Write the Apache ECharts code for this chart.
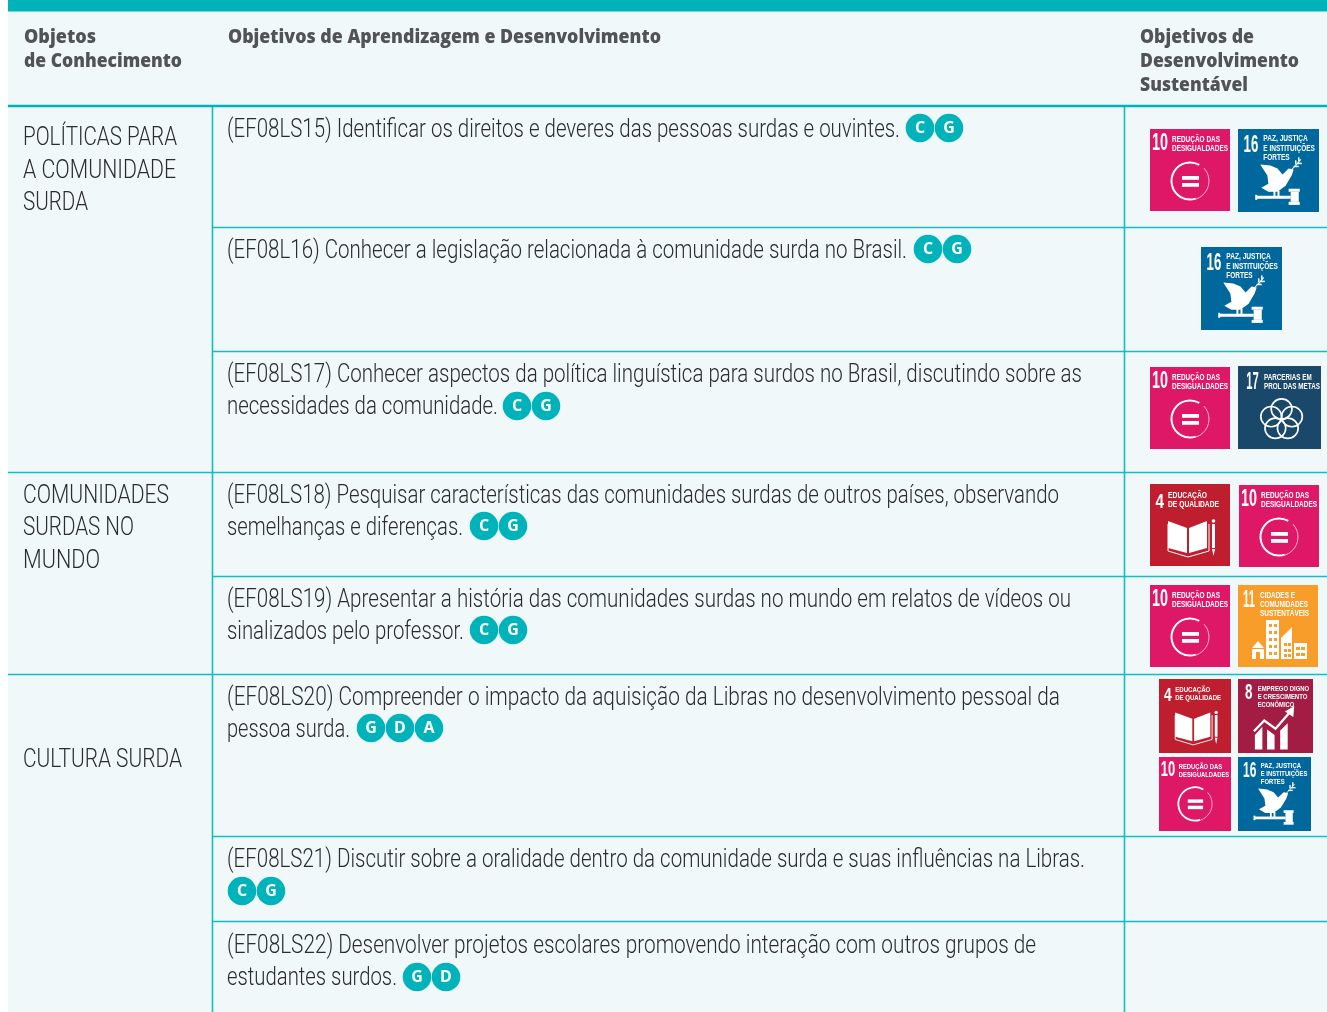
<!DOCTYPE html>
<html><head><meta charset="utf-8">
<style>html,body{margin:0;padding:0;background:#fff}#c{width:1327px;height:1012px}</style>
<script src="https://cdn.jsdelivr.net/npm/echarts@6/dist/echarts.min.js"></script>
</head><body><div id="c"></div>
<script>
// ---- content ----
const headers = [["Objetos","de Conhecimento"],["Objetivos de Aprendizagem e Desenvolvimento"],["Objetivos de","Desenvolvimento","Sustentável"]];
const topics = [["POLÍTICAS PARA","A COMUNIDADE","SURDA"],["COMUNIDADES","SURDAS NO","MUNDO"],["CULTURA SURDA"]];
const objectives = [
 ["(EF08LS15) Identificar os direitos e deveres das pessoas surdas e ouvintes."],
 ["(EF08L16) Conhecer a legislação relacionada à comunidade surda no Brasil."],
 ["(EF08LS17) Conhecer aspectos da política linguística para surdos no Brasil, discutindo sobre as","necessidades da comunidade."],
 ["(EF08LS18) Pesquisar características das comunidades surdas de outros países, observando","semelhanças e diferenças."],
 ["(EF08LS19) Apresentar a história das comunidades surdas no mundo em relatos de vídeos ou","sinalizados pelo professor."],
 ["(EF08LS20) Compreender o impacto da aquisição da Libras no desenvolvimento pessoal da","pessoa surda."],
 ["(EF08LS21) Discutir sobre a oralidade dentro da comunidade surda e suas influências na Libras."],
 ["(EF08LS22) Desenvolver projetos escolares promovendo interação com outros grupos de","estudantes surdos."]
];
const badges = [["C","G"],["C","G"],["C","G"],["C","G"],["C","G"],["G","D","A"],["C","G"],["G","D"]];
const rowGoals = [[10,16],[16],[10,17],[4,10],[10,11],[4,8,10,16],[],[]];
const goalTitles = {4:["EDUCAÇÃO","DE QUALIDADE"],8:["EMPREGO DIGNO","E CRESCIMENTO","ECONÔMICO"],10:["REDUÇÃO DAS","DESIGUALDADES"],11:["CIDADES E","COMUNIDADES","SUSTENTÁVEIS"],16:["PAZ, JUSTIÇA","E INSTITUIÇÕES","FORTES"],17:["PARCERIAS EM","PROL DAS METAS"]};
const goalColors = {4:"#BF1E2E",8:"#A21C44",10:"#DF1767",11:"#F99D2A",16:"#00689D",17:"#19486A"};

// ---- layout ----
const TEAL="#00B3BA", LINE="#14BBC1", BG="#F0F8FA", INK="#2C2C2E", HEAD="#525355";
const rowLines=[227.5,351.5,472.5,576.5,674.5,836.5,921.5];
const sectionLines=[472.5,674.5];
const headLayout=[[[24,37,96],[24,61,182]],[[228,37,661]],[[1140,37,1254],[1140,61,1299],[1140,85,1248]]];
const topicLayout=[[[23,138.5,177],[23,171,176],[23,203.5,88]],[[23,496,169],[23,528.5,134],[23,561,100]],[[23,760,182]]];
const objLayout=[[[227,130,900]],[[227,251,907]],[[227,375,1082],[227,407.5,498]],[[227,496,1059],[227,528.5,463]],[[227,600,1071],[227,632.5,464]],[[227,698,1060],[227,730.5,350]],[[227,860,1085]],[[227,946,1036],[227,978.5,397]]];
const badgeLayout=[[128,[920,949]],[249,[928,957]],[406,[517,546]],[526,[484,513]],[630,[484,513]],[728,[371,400,429]],[891,[242,271]],[977,[417,446]]];
const tileLayout=[[[1150,129,80,82],[1238,129,81,83]],[[1201,247,81,83]],[[1150,367,80,82],[1238,366,83,83]],[[1150,484,80,82],[1239,485,80,82]],[[1150,585,80,82],[1238,585,80,82]],[[1159,679,72,74],[1238,679,75,74],[1159,757,72,74],[1238,757,73,74]],[],[]];
const numLayout={4:[5.5,14,18.5,21],8:[7.5,15.5,15,24],10:[2,18,14.5,24],11:[5,17,15,24],16:[5.5,20,16,24],17:[8,20,16,24]};
const titleLayout={4:[18,[57,69],12],8:[21,[76,74,60],11],10:[22,[70,78],11],11:[22,[57,70,71],11],16:[25,[69,76,51],10],17:[25,[71,79],11]};

const ctx=document.createElement('canvas').getContext('2d');
function fit(text,pos,font){
  const [x,y,right]=pos;
  ctx.font=`${font.fontWeight} ${font.fontSize}px ${font.fontFamily}`;
  const w=ctx.measureText(text).width;
  return {type:'text',x:x,y:y,scaleX:(right-x)/w,silent:true,
    style:Object.assign({text:text,align:'left',verticalAlign:'middle'},font)};
}
const rect=(x,y,w,h,fill)=>({type:'rect',shape:{x,y,width:w,height:h},style:{fill},silent:true});
const poly=(points,fill)=>({type:'polygon',shape:{points},style:{fill},silent:true});
const pline=(points,w)=>({type:'polyline',shape:{points},style:{stroke:'#fff',lineWidth:w,fill:null},silent:true});
const W='#fff';
const ring=(cx,cy,r,w)=>({type:'circle',shape:{cx,cy,r},style:{stroke:W,lineWidth:w,fill:null},silent:true});

function icon(g){
  if(g===10) return [
    {type:'arc',shape:{cx:40,cy:52,r:18.5,startAngle:-Math.PI/3,endAngle:Math.PI*0.4,clockwise:false},style:{stroke:W,lineWidth:2,fill:null},silent:true},
    {type:'arc',shape:{cx:40,cy:52,r:19,startAngle:-0.75,endAngle:1.26,clockwise:true},style:{stroke:'#F6C6DA',lineWidth:0.9,fill:null},silent:true},
    rect(32,47,17,3.8,W),rect(32,54,17,3.8,W)];
  if(g===16) return [
    poly([[22,35],[32,36],[39,39],[44,45],[50,39],[55,40],[53,46],[47,56],[39,62],[30,62],[23,58],[30,54],[29,46]],W),
    rect(35,61,2,6,W),rect(39,61,2,6,W),rect(18,66,34,3,W),rect(17,65,2,5,W),rect(50,59,11,3,W),rect(52,62,8,10,W),rect(50,72,11,3,W),
    pline([[53,40],[58,35],[62,30]],1),pline([[55,37],[60,37]],1.5),pline([[58,34],[63,34]],1.5),pline([[57,35],[57,31]],1.5),pline([[60,32],[60,28]],1.5)];
  if(g===4) return [
    poly([[18,37],[37,44],[37,69],[18,64]],W),poly([[39,44],[57,37],[57,64],[39,69]],W),
    pline([[18,40],[18,67],[38,73],[59,67],[59,40]],1),
    rect(62,40,3,24,W),poly([[62,65],[65,65],[63.5,72]],W),{type:'circle',shape:{cx:63.5,cy:37,r:1.8},style:{fill:W},silent:true}];
  if(g===8) return [
    poly([[18,78],[18,62],[26,53],[26,78]],W),poly([[31,78],[31,56],[39,62],[39,78]],W),poly([[45,78],[45,57],[53,49],[53,78]],W),
    pline([[17,58],[28,46],[40,55],[56,36]],2.5),poly([[50,36],[60,30],[59,42]],W)];
  if(g===11) return [
    rect(28,35,13,39,W),rect(31,39,3,3,goalColors[11]),rect(36,39,3,3,goalColors[11]),rect(31,46,3,3,goalColors[11]),rect(36,46,3,3,goalColors[11]),rect(31,53,3,3,goalColors[11]),rect(36,53,3,3,goalColors[11]),rect(31,60,3,3,goalColors[11]),rect(36,60,3,3,goalColors[11]),rect(31,67,3,3,goalColors[11]),rect(36,67,3,3,goalColors[11]),
    poly([[14,63],[20,56],[26,63]],W),rect(14,64,12,10,W),rect(18,67,4,7,goalColors[11]),
    poly([[43,53],[54,42],[54,74],[43,74]],W),rect(46,58,3,3,goalColors[11]),rect(50,58,3,3,goalColors[11]),rect(46,64,3,3,goalColors[11]),rect(50,64,3,3,goalColors[11]),rect(46,69,3,3,goalColors[11]),rect(50,69,3,3,goalColors[11]),
    rect(56,58,13,16,W),rect(58,62,4,3,goalColors[11]),rect(63,62,4,3,goalColors[11]),rect(58,68,4,3,goalColors[11]),rect(63,68,4,3,goalColors[11])];
  if(g===17) return [ring(42,42.5,10,1.6),ring(32,50,10,1.6),ring(52,50,10,1.6),ring(36,61.5,10,1.6),ring(48,61.5,10,1.6)];
  return [];
}
const tileFontFamily='"Liberation Sans"';
function tile(g,box){
  const [x,y,w,h]=box;
  const kids=[rect(0,0,80,82,goalColors[g])];
  const nl=numLayout[g];
  kids.push(fit(String(g),[nl[0],nl[2],nl[1]],{fill:W,fontFamily:tileFontFamily,fontWeight:'bold',fontSize:nl[3]}));
  const tl=titleLayout[g];
  goalTitles[g].forEach((t,i)=>kids.push(fit(t,[tl[0],tl[2]+i*9,tl[1][i]],{fill:W,fontFamily:tileFontFamily,fontWeight:'bold',fontSize:8.5})));
  icon(g).forEach(k=>kids.push(k));
  return {type:'group',x:x,y:y,scaleX:w/80,scaleY:h/82,children:kids};
}

const els=[];
els.push(rect(8,0,1319,1012,BG));
els.push(rect(8,0,1319,11.5,TEAL));
const hl=(x1,x2,y,w,c)=>({type:'line',shape:{x1,y1:y,x2,y2:y},style:{stroke:c,lineWidth:w},silent:true});
const vl=(x,y1,y2)=>({type:'line',shape:{x1:x,y1,x2:x,y2},style:{stroke:LINE,lineWidth:1.6},silent:true});
rowLines.forEach(y=>els.push(hl(sectionLines.includes(y)?8:212,1327,y,1.5,LINE)));
els.push(vl(212.5,106,1012),vl(1124.5,106,1012));
els.push(hl(8,1327,106,2.4,TEAL));
const bodyFont={fontFamily:'Roboto',fontWeight:300,fontSize:26,fill:INK};
const headFont={fontFamily:'"Open Sans"',fontWeight:800,fontSize:20,fill:HEAD};
headers.forEach((h,i)=>h.forEach((t,j)=>els.push(fit(t,headLayout[i][j],headFont))));
topics.forEach((h,i)=>h.forEach((t,j)=>els.push(fit(t,topicLayout[i][j],bodyFont))));
objectives.forEach((h,i)=>h.forEach((t,j)=>els.push(fit(t,objLayout[i][j],bodyFont))));
badges.forEach((b,i)=>{
  const [y,xs]=badgeLayout[i];
  b.forEach((l,j)=>{
    els.push({type:'circle',shape:{cx:xs[j],cy:y,r:14.3},style:{fill:TEAL},silent:true});
    els.push({type:'text',x:xs[j],y:y,silent:true,style:{text:l,fill:'#fff',fontFamily:'"Open Sans"',fontWeight:700,fontSize:16,align:'center',verticalAlign:'middle'}});
  });
});
rowGoals.forEach((gs,i)=>gs.forEach((g,j)=>els.push(tile(g,tileLayout[i][j]))));

const chart=echarts.init(document.getElementById('c'),null,{renderer:'canvas'});
chart.setOption({animation:false,graphic:{elements:els}});
</script></body></html>
